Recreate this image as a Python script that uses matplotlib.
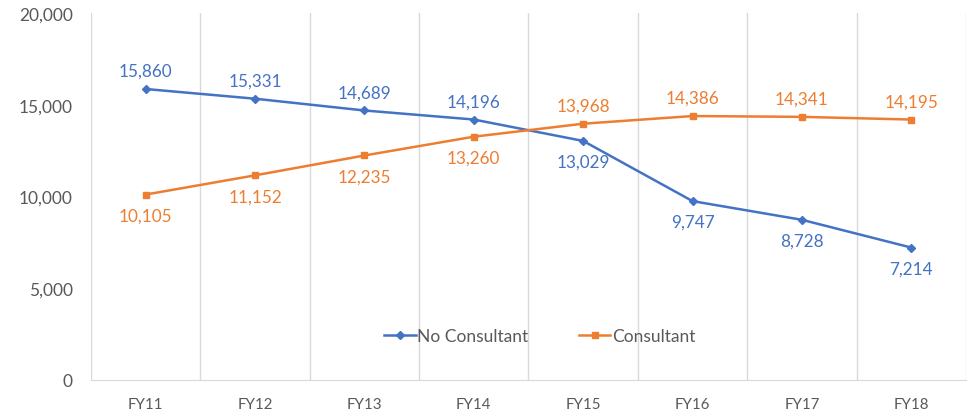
import numpy as np
import matplotlib.pyplot as plt
from matplotlib.ticker import FuncFormatter

plt.rcParams['font.family'] = ['Lato', 'DejaVu Sans']

years = ['FY11', 'FY12', 'FY13', 'FY14', 'FY15', 'FY16', 'FY17', 'FY18']
no_consultant = [15860, 15331, 14689, 14196, 13029, 9747, 8728, 7214]
consultant = [10105, 11152, 12235, 13260, 13968, 14386, 14341, 14195]

blue = '#4472C4'
orange = '#ED7D31'

fig = plt.figure(figsize=(9.72, 4.14), dpi=100)
ax = fig.add_axes([0.0936, 0.080, 0.9002, 0.886])

x = np.arange(len(years))
ax.plot(x, no_consultant, color=blue, lw=1.8, marker='D', ms=4.5, label='No Consultant')
ax.plot(x, consultant, color=orange, lw=1.8, marker='s', ms=5, label='Consultant')

# data labels: blue above then below after crossing, orange the other way round
for i in range(len(years)):
    above = no_consultant[i] > consultant[i]
    ax.annotate(f'{no_consultant[i]:,}', (x[i], no_consultant[i]),
                xytext=(0, 13 if above else -15), textcoords='offset points',
                ha='center', va='center', color=blue, fontsize=12.3)
    ax.annotate(f'{consultant[i]:,}', (x[i], consultant[i]),
                xytext=(0, -15 if above else 13), textcoords='offset points',
                ha='center', va='center', color=orange, fontsize=12.3)

ax.set_xlim(-0.5, len(years) - 0.5)
ax.set_ylim(0, 20000)
ax.set_yticks([0, 5000, 10000, 15000, 20000])
ax.yaxis.set_major_formatter(FuncFormatter(lambda v, p: f'{int(v):,}'))
ax.set_xticks(x)
ax.set_xticklabels(years)
ax.set_xticks(np.arange(-0.5, len(years)), minor=True)
ax.grid(which='minor', axis='x', color='#D9D9D9', lw=1)
ax.tick_params(which='both', length=0)
ax.tick_params(axis='y', labelsize=12.5, labelcolor='#595959', pad=13)
ax.tick_params(axis='x', labelsize=10.8, labelcolor='#595959', pad=12)
for s in ['top', 'right', 'left']:
    ax.spines[s].set_visible(False)
ax.spines['bottom'].set_color('#D9D9D9')

leg = ax.legend(loc='center', bbox_to_anchor=(0.513, 0.12), ncol=2, frameon=False,
                fontsize=12.5, handlelength=1.8, handletextpad=0.1, columnspacing=2.9)
for t in leg.get_texts():
    t.set_color('#595959')

fig.savefig('out.png')
